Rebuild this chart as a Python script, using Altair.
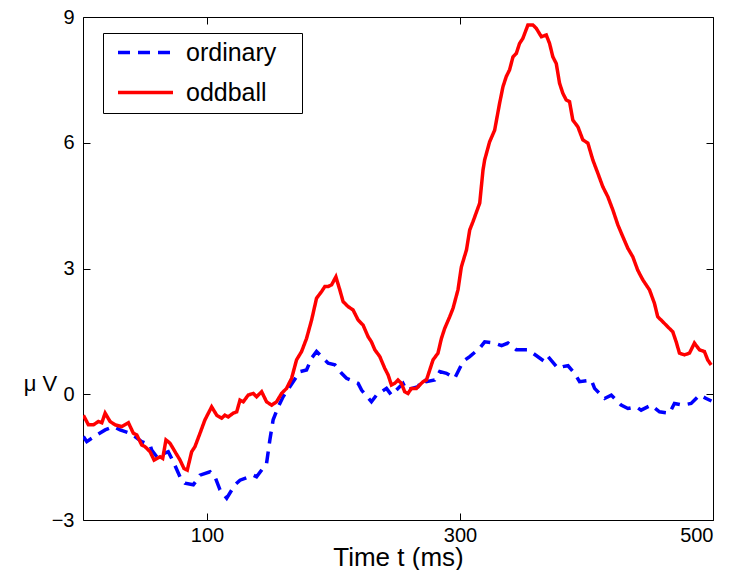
import altair as alt
import pandas as pd

# oddball (red, solid)
t_odd = [2.3, 6.3, 10.2, 14.2, 16.9, 19.5, 23.4, 27.4, 32.6, 37.9,
         41.8, 44.5, 48.4, 51, 55, 58.2, 62.9, 65, 67.6, 70.8,
         74.7, 78.7, 81.8, 84.4, 87.9, 90.5, 94.5, 98.4, 103.7, 107.7,
         111.6, 114.2, 116.8, 120.8, 123.5, 126.1, 128.7, 132.6, 136.6, 139.2,
         143.2, 147.1, 151.1, 155, 159, 162.9, 166.9, 170.8, 174.8, 178.7,
         182.7, 186.6, 190.6, 193.2, 195.8, 198.5, 201.9, 205, 207.6, 211.6,
         215.5, 219.5, 223.4, 227.4, 230, 232.7, 236.6, 240.5, 243.2, 245.8,
         248.4, 251, 253.7, 256.3, 258.9, 261.6, 265.6, 268.2, 270.8, 273.5,
         276.1, 278.7, 282.6, 285.3, 287.9, 291.9, 294.5, 298.4, 301.1, 305.1,
         307.7, 310.3, 315.6, 318.2, 319.5, 323.4, 327.4, 331.3, 334, 336.6,
         339.2, 341.9, 344.5, 347.1, 349.7, 353.7, 357.6, 360.3, 364.3, 368.2,
         370.8, 373.4, 376.1, 378.7, 381.3, 384, 386.6, 389.2, 393.2, 397.1,
         401.1, 405, 409, 412.9, 416.9, 420.8, 424.8, 428.7, 432.7, 436.6,
         440.5, 444.5, 449.8, 453.7, 456.3, 460.3, 464.2, 468.2, 470.9, 473.5,
         477.4, 481.4, 485.3, 489.3, 493.2, 495.8, 498.5]
v_odd = [-0.50, -0.73, -0.73, -0.65, -0.68, -0.45, -0.65, -0.73, -0.77, -0.68,
         -0.93, -0.97, -1.21, -1.25, -1.37, -1.57, -1.49, -1.53, -1.09, -1.17,
         -1.37, -1.57, -1.77, -1.81, -1.37, -1.25, -0.93, -0.61, -0.30, -0.50,
         -0.57, -0.50, -0.54, -0.45, -0.42, -0.14, -0.18, -0.02, 0.02, -0.06,
         0.06, -0.18, -0.26, -0.18, 0.02, 0.14, 0.38, 0.82, 1.02, 1.33,
         1.77, 2.29, 2.45, 2.57, 2.57, 2.61, 2.80, 2.49, 2.21, 2.09,
         2.01, 1.77, 1.65, 1.37, 1.25, 1.06, 0.90, 0.62, 0.46, 0.22,
         0.26, 0.34, 0.26, 0.06, 0.02, 0.14, 0.14, 0.22, 0.30, 0.34,
         0.58, 0.82, 0.98, 1.33, 1.57, 1.85, 2.05, 2.49, 3.04, 3.44,
         3.92, 4.12, 4.56, 5.35, 5.59, 6.02, 6.30, 6.94, 7.34, 7.58,
         7.74, 8.05, 8.13, 8.37, 8.49, 8.81, 8.81, 8.73, 8.53, 8.57,
         8.37, 8.05, 7.89, 7.42, 7.18, 7.02, 6.98, 6.54, 6.38, 6.07,
         5.99, 5.59, 5.27, 4.95, 4.71, 4.40, 4.04, 3.76, 3.48, 3.28,
         2.96, 2.73, 2.49, 2.17, 1.85, 1.73, 1.61, 1.49, 1.25, 0.98,
         0.94, 0.98, 1.22, 1.06, 1.02, 0.82, 0.70]

# ordinary (blue, dashed)
t_ord = [2.3, 5, 12.9, 19.5, 26, 31.3, 39.2, 43.1, 48.4, 55,
         56.3, 60.3, 69.4, 73.4, 78.7, 82.6, 89.2, 91.9, 94.5, 102.4,
         106.3, 110.3, 115.6, 122.1, 126.1, 136.6, 139.2, 147.1, 149.7, 152.3,
         156.3, 160.2, 165.5, 173.4, 178.7, 182.7, 186.6, 189.2, 195.8, 201.1,
         206.4, 210.3, 219.5, 222.2, 230, 234, 241.9, 245.8, 255, 257.7,
         266.8, 270.8, 273.5, 280, 284, 289.3, 295.8, 302.4, 307.7, 315.6,
         319.5, 327.4, 332.9, 337.9, 344.5, 353.7, 357.6, 366.9, 369.5, 377.4,
         381.3, 385.4, 390.6, 394.5, 403.8, 406.4, 414.3, 419.6, 427.4, 432.7,
         439.3, 443.2, 451.1, 457.7, 465.6, 469.5, 476.1, 482.7, 489.3, 494.6,
         498.8]
v_ord = [-1.01, -1.13, -0.97, -0.85, -0.77, -0.85, -0.93, -1.01, -1.13, -1.21,
         -1.33, -1.49, -1.37, -1.61, -1.97, -2.12, -2.16, -2.05, -1.93, -1.85,
         -1.97, -2.28, -2.48, -2.16, -2.05, -1.93, -1.97, -1.65, -1.09, -0.61,
         -0.30, -0.06, 0.18, 0.54, 0.58, 0.86, 1.02, 0.94, 0.74, 0.70,
         0.50, 0.38, 0.26, 0.10, -0.18, -0.02, 0.14, -0.02, 0.26, 0.10,
         0.18, 0.38, 0.30, 0.34, 0.54, 0.50, 0.38, 0.78, 0.90, 1.10,
         1.25, 1.22, 1.16, 1.22, 1.06, 1.06, 0.98, 0.78, 0.90, 0.62,
         0.66, 0.68, 0.50, 0.30, 0.34, 0.14, -0.10, -0.02, -0.26, -0.34,
         -0.30, -0.38, -0.26, -0.42, -0.45, -0.22, -0.26, -0.22, -0.02, -0.10,
         -0.16]

series_names = ["ordinary", "oddball"]
series_colors = ["#0000FF", "#FF0000"]
x_ticks = [100, 300, 500]
y_ticks = [-3, 0, 3, 6, 9]

df = pd.concat([
    pd.DataFrame({"t": t_ord, "v": v_ord, "series": "ordinary"}),
    pd.DataFrame({"t": t_odd, "v": v_odd, "series": "oddball"}),
], ignore_index=True)

FONT = "Liberation Sans"
xscale = alt.Scale(domain=[2, 500], nice=False, zero=False)
yscale = alt.Scale(domain=[-3, 9], nice=False, zero=False)

legend = alt.Legend(
    title=None, orient="none", legendX=20, legendY=16,
    symbolType="M-3,0H3", symbolSize=336, symbolStrokeWidth=3.5,
    symbolOffset=23,
    labelFontSize=25, labelFont=FONT, labelColor="black", labelOffset=28,
    labelExpr="datum.label + '\u2800'",
    strokeColor="black", fillColor="white", padding=7, rowPadding=14,
    cornerRadius=0,
)

lines = alt.Chart(df).mark_line(strokeWidth=3.5, clip=True).encode(
    x=alt.X("t:Q", scale=xscale, axis=alt.Axis(
        orient="bottom", values=x_ticks, title="Time t (ms)", domain=False,
        offset=-7, tickSize=7, labelPadding=5, grid=False,
        titleFontSize=26, titleX=315, titleY=52, titleAlign="center",
        titleBaseline="alphabetic")),
    y=alt.Y("v:Q", scale=yscale, axis=alt.Axis(
        orient="left", values=y_ticks, title="μ V", domain=False,
        offset=-7, tickSize=7, labelPadding=9, grid=False,
        titleFontSize=22,
        titleAngle=0, titleX=-50, titleY=366, titleAlign="center",
        titleBaseline="middle")),
    color=alt.Color("series:N", scale=alt.Scale(domain=series_names, range=series_colors),
                    legend=legend),
    strokeDash=alt.StrokeDash("series:N", scale=alt.Scale(domain=series_names, range=[[12, 8], [1, 0]]),
                              legend=legend),
)

frame = alt.Chart(df).mark_line(opacity=0).encode(
    x=alt.X("t:Q", scale=xscale, axis=alt.Axis(
        orient="top", values=x_ticks, title=None, labels=False, domain=False,
        offset=-7, tickSize=7, grid=False)),
    y=alt.Y("v:Q", scale=yscale, axis=alt.Axis(
        orient="right", values=y_ticks, title=None, labels=False, domain=False,
        offset=-7, tickSize=7, grid=False)),
    detail="series:N",
)

chart = alt.layer(lines, frame).resolve_axis(
    x="independent", y="independent"
).properties(
    width=630, height=503,
    autosize=alt.AutoSizeParams(type="none"),
    padding={"left": 75, "top": 9, "right": 10, "bottom": 50},
    background="white",
).configure_view(
    stroke="black", strokeWidth=1,
).configure_axis(
    labelFont=FONT, labelFontSize=20, labelColor="black",
    titleFont=FONT, titleColor="black", titleFontWeight="normal",
    tickColor="black", tickWidth=1,
)

chart.save("out.html", embed_options={"renderer": "svg", "actions": False})
